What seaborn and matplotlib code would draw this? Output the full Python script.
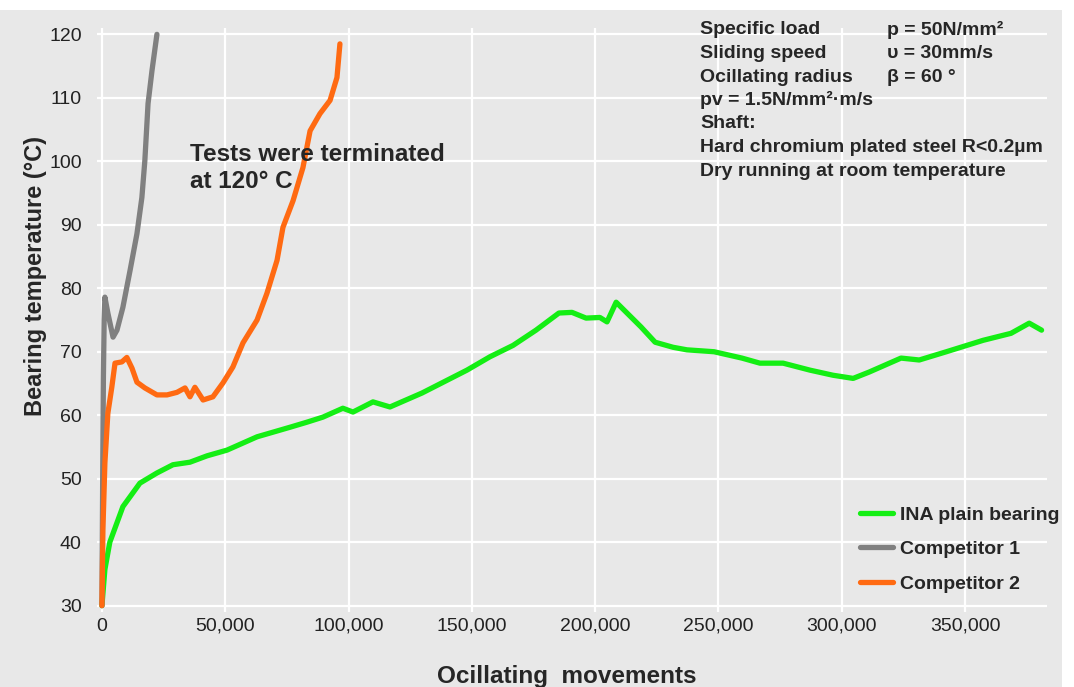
import numpy as np
import pandas as pd
import matplotlib
matplotlib.use('Agg')
import matplotlib.pyplot as plt
from matplotlib.patches import Rectangle
import seaborn as sns

# values
ina_x = [0, 1200, 3200, 8500, 15400, 22300, 28800, 35700, 42600, 50700, 62900,
         76200, 83100, 89600, 97700, 101800, 109900, 116800, 129800, 148000,
         157300, 166700, 176000, 185300, 190600, 196300, 201900, 204800, 208500,
         212900, 218600, 224300, 231600, 237200, 248200, 259500, 266800, 276200,
         287100, 296400, 304600, 311100, 324000, 331400, 342400, 357300, 368600,
         376000, 381000]
ina_y = [30, 35.7, 40, 45.6, 49.3, 50.9, 52.2, 52.6, 53.6, 54.5, 56.6,
         58.1, 58.9, 59.7, 61.1, 60.5, 62.1, 61.3, 63.5, 67.1,
         69.2, 71.0, 73.4, 76.1, 76.2, 75.3, 75.4, 74.7, 77.8,
         76.1, 73.9, 71.5, 70.7, 70.3, 70.0, 69.0, 68.2, 68.2,
         67.1, 66.3, 65.8, 66.8, 69.0, 68.7, 70.0, 71.8, 72.9,
         74.5, 73.4]

comp1_x = [0, 300, 600, 900, 1200, 2400, 4500, 6100, 8500, 11400, 14200,
           16200, 17400, 18700, 20300, 22300]
comp1_y = [30, 50, 66, 75, 78.6, 76.1, 72.3, 73.4, 77.0, 82.8, 88.6,
           94.3, 100.1, 109.1, 114.3, 120.0]

comp2_x = [0, 400, 1200, 2400, 4000, 5300, 8100, 10100, 12200, 14200, 17400,
           22300, 26400, 30400, 33700, 35700, 37700, 41000, 45000, 49100,
           53100, 57200, 62900, 66900, 71000, 73400, 77500, 81500, 84400,
           88400, 92500, 95300, 96500]
comp2_y = [30, 42, 52.5, 60.3, 64.4, 68.2, 68.4, 69.1, 67.4, 65.2, 64.3,
           63.2, 63.2, 63.6, 64.3, 62.9, 64.4, 62.4, 62.9, 65.1,
           67.6, 71.4, 75.0, 79.2, 84.4, 89.6, 93.8, 99.0, 104.8,
           107.5, 109.6, 113.2, 118.5]

series_names = ['INA plain bearing', 'Competitor 1', 'Competitor 2']
series_colors = ['#14ee14', '#808080', '#ff6a12']

x_ticks = [0, 50000, 100000, 150000, 200000, 250000, 300000, 350000]
x_tick_labels = ['0', '50,000', '100,000', '150,000', '200,000',
                 '250,000', '300,000', '350,000']
y_ticks = [30, 40, 50, 60, 70, 80, 90, 100, 110, 120]

info_left = ['Specific load', 'Sliding speed', 'Ocillating radius',
             'pv = 1.5N/mm²·m/s', 'Shaft:',
             'Hard chromium plated steel R<0.2µm',
             'Dry running at room temperature']
info_right = ['p = 50N/mm²', 'υ = 30mm/s', 'β = 60 °', '', '', '', '']


def build_frame():
    parts = []
    for name, xs, ys in zip(series_names, [ina_x, comp1_x, comp2_x],
                            [ina_y, comp1_y, comp2_y]):
        parts.append(pd.DataFrame({'movements': xs, 'temp': ys, 'series': name}))
    return pd.concat(parts, ignore_index=True)


def main():
    sns.set_style('darkgrid', {'axes.facecolor': '#e8e8e8', 'grid.color': 'white'})
    plt.rcParams['font.family'] = ['Liberation Sans', 'DejaVu Sans']

    W, H = 1074, 687
    fig = plt.figure(figsize=(W / 100, H / 100), dpi=100, facecolor='white')
    fig.add_artist(Rectangle((0, 0), 1062 / W, (H - 10) / H, transform=fig.transFigure,
                             facecolor='#e8e8e8', edgecolor='none', zorder=-5))

    ax = fig.add_axes([97 / W, 1 - 612 / H, 950 / W, 584 / H])
    df = build_frame()
    sns.lineplot(data=df, x='movements', y='temp', hue='series',
                 hue_order=series_names, palette=series_colors,
                 estimator=None, linewidth=3.8, ax=ax)

    ax.set_xlim(-2000, 383200)
    ax.set_ylim(29, 121)
    ax.set_xticks(x_ticks)
    ax.set_xticklabels(x_tick_labels)
    ax.set_yticks(y_ticks)
    ax.grid(True, color='white', linewidth=1.6)
    ax.tick_params(axis='x', labelsize=14, labelcolor='#222222', pad=4, length=0)
    ax.tick_params(axis='y', labelsize=14, labelcolor='#222222', pad=11, length=0)
    for s in ax.spines.values():
        s.set_visible(False)

    ax.set_xlabel('Ocillating  movements', fontsize=17.5, fontweight='bold')
    ax.set_ylabel('Bearing temperature (°C)', fontsize=17, fontweight='bold')
    ax.xaxis.set_label_coords(0.494, -0.09)
    ax.yaxis.set_label_coords(-0.053, 0.575)

    ax.text(0.098, 0.803, 'Tests were terminated\nat 120° C', transform=ax.transAxes,
            fontsize=17.5, fontweight='bold', va='top', ha='left')

    line_y = [30, 53, 77, 100, 124, 148, 172]
    for py, left, right in zip(line_y, info_left, info_right):
        fig.text(700 / W, 1 - py / H, left, fontsize=14, fontweight='bold',
                 va='center', ha='left')
        if right:
            fig.text(887 / W, 1 - py / H, right, fontsize=14, fontweight='bold',
                     va='center', ha='left')

    ax.legend(loc='upper left', bbox_to_anchor=(0.803, 0.181), frameon=False,
              borderpad=0, borderaxespad=0, handlelength=1.7, handletextpad=0.36,
              labelspacing=0.86, prop={'size': 14, 'weight': 'bold'})

    fig.savefig('out.png', dpi=100)


if __name__ == '__main__':
    main()
